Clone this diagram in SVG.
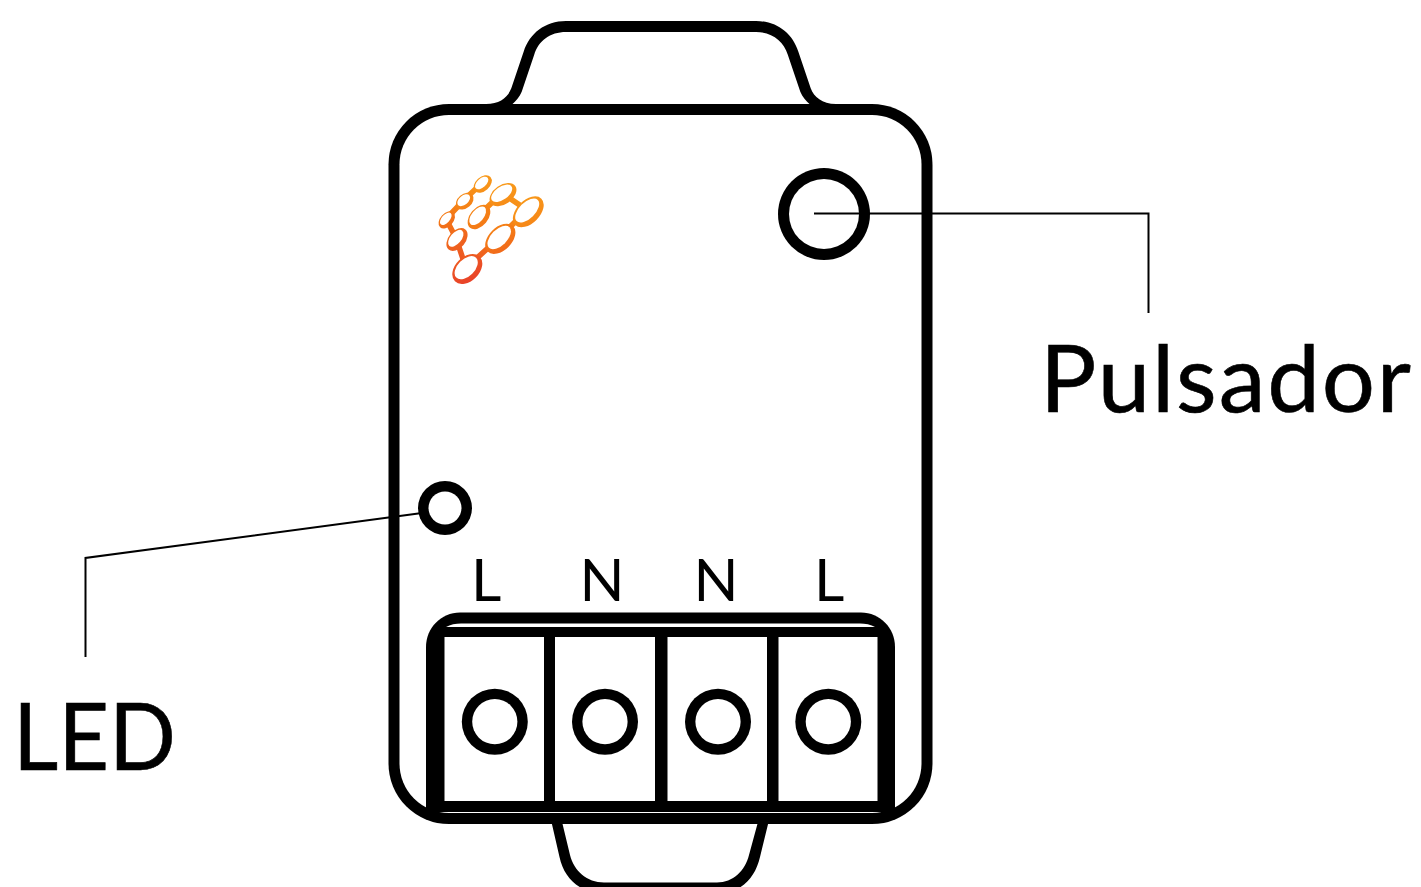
<svg xmlns="http://www.w3.org/2000/svg" width="1421" height="887" viewBox="0 0 1421 887">
<style>
.b{fill:#000}
.w{fill:#fff}
.o{fill:url(#g)}
.lead{fill:none;stroke:#000;stroke-width:2}
.big{font-family:Lato,"Open Sans",sans-serif;font-size:94px;fill:#000;stroke:#000;stroke-width:.6}
.pin{font-family:Lato,"Open Sans",sans-serif;font-size:59px;fill:#000}
.l{stroke:url(#g);stroke-width:5.500;fill:none}
</style>
<defs>
<linearGradient id="g" gradientUnits="userSpaceOnUse" x1="510" y1="175" x2="465" y2="285">
<stop offset="0" stop-color="#f9a11b"/><stop offset=".5" stop-color="#f47a16"/><stop offset="1" stop-color="#e8402a"/>
</linearGradient>
</defs>
<rect width="1421" height="887" fill="#fff"/>
<g id="body">
<path class="b" d="M486 104C500 104 508 97 511.300 88.300L523.800 51.300C529.500 33.500 545 21 566 21H756C777 21 792.500 33.500 798.200 51.300L810.700 88.300C814 97 822 104 836 104V115H810V104.500C806 101 802.500 97 800.300 91.700L787.800 54.700C783.500 41 772 32 756 32H566C550 32 538.500 41 534.200 54.700L521.700 91.700C519.500 97 516 101 512 104.500V115H486Z"/>
<path class="b" d="M551.700 823L559.500 857C564 879 581 893.500 604 893.500H717C740 893.500 755 879 760 857L768.300 823H757.700L749 855C745 871 733 882.500 717 882.500H604C587 882.500 574 871 570 855L562.300 823Z"/>
<rect class="b" x="388.500" y="104" width="544" height="720" rx="60.500" ry="60.500"/>
<rect class="w" x="399.500" y="115" width="522" height="698" rx="49.500" ry="49.500"/>
</g>
<g id="terminal">
<path class="b" d="M426 812V647C426 628 441 612.500 460 612.500H861C880 612.500 895 628 895 647V812Z"/>
<path class="w" d="M446 627C450 624.500 456 623.500 461 623.500H860C865 623.500 871 624.500 875 627Z"/>
<rect class="w" x="444.500" y="637" width="99.500" height="164"/>
<rect class="w" x="555" y="637" width="100" height="164"/>
<rect class="w" x="667.500" y="637" width="99.500" height="164"/>
<rect class="w" x="778.500" y="637" width="99" height="164"/>
<circle class="b" cx="494.800" cy="721.700" r="33"/><circle class="w" cx="494.800" cy="721.700" r="22.600"/>
<circle class="b" cx="605" cy="721.700" r="33"/><circle class="w" cx="605" cy="721.700" r="22.600"/>
<circle class="b" cx="718" cy="721.700" r="33"/><circle class="w" cx="718" cy="721.700" r="22.600"/>
<circle class="b" cx="828.300" cy="721.700" r="33"/><circle class="w" cx="828.300" cy="721.700" r="22.600"/>
</g>
<g id="button"><circle class="b" cx="824" cy="214" r="46"/><circle class="w" cx="824" cy="214" r="35"/></g>
<g id="led"><circle class="b" cx="445" cy="508" r="27"/><circle class="w" cx="445" cy="508" r="16.500"/></g>
<g id="logo">
<path class="l" d="M482 183L464 200L446 219L456 238L466 268L499 238L527 210L502 193L478 216"/>
<ellipse class="o" cx="482.700" cy="184" rx="10.500" ry="7" transform="rotate(-42 482.700 184)"/><ellipse class="w" cx="481.700" cy="183" rx="8" ry="4.500" transform="rotate(-42 481.700 183)"/>
<ellipse class="o" cx="464.700" cy="201.200" rx="10" ry="7" transform="rotate(-40 464.700 201.200)"/><ellipse class="w" cx="463.700" cy="200.200" rx="7.500" ry="4.500" transform="rotate(-40 463.700 200.200)"/>
<ellipse class="o" cx="446.800" cy="219.800" rx="10" ry="6.500" transform="rotate(-48 446.800 219.800)"/><ellipse class="w" cx="445.800" cy="218.800" rx="7.500" ry="4" transform="rotate(-48 445.800 218.800)"/>
<ellipse class="o" cx="457" cy="239.500" rx="13" ry="8.500" transform="rotate(-50 457 239.500)"/><ellipse class="w" cx="455.800" cy="238.300" rx="10" ry="5.500" transform="rotate(-50 455.800 238.300)"/>
<ellipse class="o" cx="503" cy="194.600" rx="15" ry="9.500" transform="rotate(-35 503 194.600)"/><ellipse class="w" cx="501.700" cy="193.300" rx="12" ry="6.500" transform="rotate(-35 501.700 193.300)"/>
<ellipse class="o" cx="479" cy="217" rx="14" ry="9" transform="rotate(-50 479 217)"/><ellipse class="w" cx="477.700" cy="215.800" rx="11" ry="6" transform="rotate(-50 477.700 215.800)"/>
<ellipse class="o" cx="528.300" cy="211.800" rx="18.500" ry="11.500" transform="rotate(-45 528.300 211.800)"/><ellipse class="w" cx="527.200" cy="210.500" rx="15" ry="8" transform="rotate(-45 527.200 210.500)"/>
<ellipse class="o" cx="500.300" cy="238.800" rx="18" ry="11.500" transform="rotate(-45 500.300 238.800)"/><ellipse class="w" cx="499.200" cy="237.500" rx="14.500" ry="8" transform="rotate(-45 499.200 237.500)"/>
<ellipse class="o" cx="467.300" cy="269" rx="17.500" ry="12" transform="rotate(-45 467.300 269)"/><ellipse class="w" cx="466.200" cy="267.700" rx="14" ry="8.500" transform="rotate(-45 466.200 267.700)"/>
</g>
<g id="connectors">
<path class="lead" d="M814 213.500H1148.500V313"/>
<path class="lead" d="M422 513L85.500 558V657"/>
</g>
<g id="labels">
<text class="big" x="1040" y="411.500" textLength="371" lengthAdjust="spacing">Pulsador</text>
<text class="big" x="13" y="770" textLength="163" lengthAdjust="spacingAndGlyphs">LED</text>
<text class="pin" x="471" y="601">L</text>
<text class="pin" x="579.500" y="601">N</text>
<text class="pin" x="693.500" y="601">N</text>
<text class="pin" x="814" y="601">L</text>
</g>
</svg>
